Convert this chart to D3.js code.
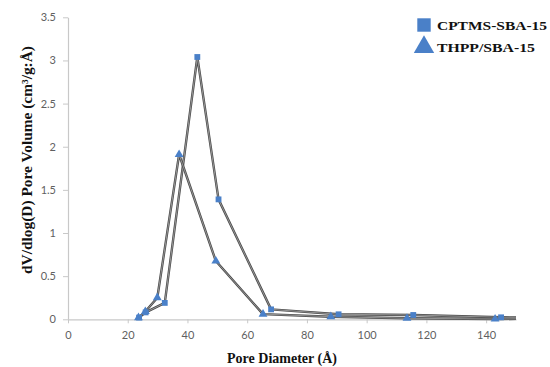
<!DOCTYPE html>
<html>
<head>
<meta charset="utf-8">
<script src="https://cdn.jsdelivr.net/npm/d3@7"></script>
<style>
  body { margin: 0; background: #fff; }
  .tick text { font-family: Lato, "Open Sans", sans-serif; font-size: 11px; fill: #5f5f5f; }
  .axis-title, .legend-label { font-family: "Liberation Serif", "Times New Roman", serif; font-weight: bold; fill: #111; }
</style>
</head>
<body>
<svg width="550" height="367"></svg>
<script>
// pore size distribution
const seriesNames = ['CPTMS-SBA-15', 'THPP/SBA-15'];
const cptmsDiameter = [23.8, 26.0, 32.4, 43.3, 50.4, 68.0, 90.6, 115.6, 145.0, 150];
const cptmsVolume   = [0.02, 0.08, 0.19, 3.04, 1.39, 0.115, 0.058, 0.05, 0.023, 0.02];
const thppDiameter  = [23.6, 25.9, 29.9, 37.2, 49.5, 65.3, 88.0, 113.5, 143.0, 150];
const thppVolume    = [0.02, 0.09, 0.25, 1.91, 0.675, 0.06, 0.03, 0.012, 0.003, 0.005];
const xTicks = [0, 20, 40, 60, 80, 100, 120, 140];
const yTicks = [0, 0.5, 1, 1.5, 2, 2.5, 3, 3.5];
const yTickLabels = ['0', '0.5', '1', '1.5', '2', '2.5', '3', '3.5'];

const svg = d3.select('svg');
const blue = '#4a80c8';

const x = d3.scaleLinear().domain([0, 150]).range([68, 516]);
const y = d3.scaleLinear().domain([0, 3.5]).range([319.3, 17.3]);

const xAxis = d3.axisBottom(x).tickValues(xTicks).tickSize(4).tickSizeOuter(0).tickPadding(8);
const yAxis = d3.axisLeft(y).tickValues(yTicks).tickSize(5).tickSizeOuter(0).tickPadding(7)
    .tickFormat((d, i) => yTickLabels[i]);

const gx = svg.append('g')
    .attr('transform', `translate(0,${y(0)})`)
    .call(xAxis);
const gy = svg.append('g')
    .attr('transform', `translate(${x(0)},0)`)
    .call(yAxis);
[gx, gy].forEach(g => {
    g.select('.domain').attr('stroke', '#c8c8c8').attr('stroke-width', 1.2);
    g.selectAll('.tick line').attr('stroke', '#c8c8c8');
});

const series = [
    { name: seriesNames[0], pts: cptmsDiameter.map((d, i) => [d, cptmsVolume[i]]), symbol: d3.symbolSquare },
    { name: seriesNames[1], pts: thppDiameter.map((d, i) => [d, thppVolume[i]]), symbol: d3.symbolTriangle }
];

const line = d3.line().x(d => x(d[0])).y(d => y(d[1]));

series.forEach(s => {
    svg.append('path')
        .attr('d', line(s.pts))
        .attr('fill', 'none')
        .attr('stroke', '#4a4a4a')
        .attr('stroke-width', 2.4)
        .attr('stroke-linejoin', 'round');
    svg.append('path')
        .attr('d', line(s.pts))
        .attr('fill', 'none')
        .attr('stroke', '#b5b5b5')
        .attr('stroke-width', 0.7);
});

// markers (the last point at the axis end has none)
series.forEach(s => {
    svg.selectAll(null)
        .data(s.pts.slice(0, -1))
        .enter()
        .append('path')
        .attr('transform', d => `translate(${x(d[0])},${y(d[1])})`)
        .attr('d', d3.symbol().type(s.symbol).size(34))
        .attr('fill', blue);
});

// axis titles
svg.append('text')
    .attr('class', 'axis-title')
    .attr('x', 282)
    .attr('y', 363)
    .attr('text-anchor', 'middle')
    .attr('font-size', 14)
    .text('Pore Diameter (Å)');

svg.append('text')
    .attr('class', 'axis-title')
    .attr('transform', 'translate(32,160) rotate(-90)')
    .attr('text-anchor', 'middle')
    .attr('font-size', 14)
    .attr('textLength', 228)
    .attr('lengthAdjust', 'spacingAndGlyphs')
    .text('dV/dlog(D) Pore Volume (cm³/g:Å)');

// legend
const legend = svg.append('g');
series.forEach((s, i) => {
    const cy = 25 + i * 22;
    legend.append('path')
        .attr('transform', `translate(424,${cy})`)
        .attr('d', d3.symbol().type(s.symbol).size(180))
        .attr('fill', blue);
    legend.append('text')
        .attr('class', 'legend-label')
        .attr('x', 437)
        .attr('y', cy + 5)
        .attr('font-size', 13)
        .attr('textLength', i === 0 ? 110 : 98)
        .attr('lengthAdjust', 'spacingAndGlyphs')
        .text(s.name);
});
</script>
</body>
</html>
